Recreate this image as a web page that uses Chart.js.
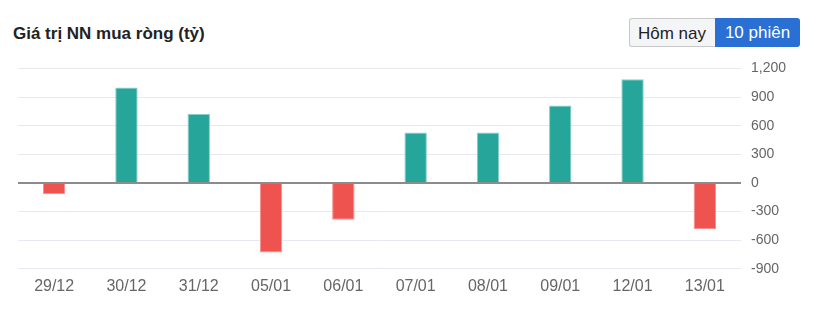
<!DOCTYPE html>
<html>
<head>
<meta charset="utf-8">
<script src="https://cdn.jsdelivr.net/npm/chart.js@4"></script>
<style>
    body { margin: 0; background: #fff; font-family: "Liberation Sans", Arial, sans-serif; }
    #title { position: absolute; left: 13px; top: 24px; font-size: 17px; font-weight: bold; color: #222; }
    .btns { position: absolute; left: 629px; top: 18px; display: flex; }
    .btn { height: 29px; line-height: 29px; font-size: 17px; box-sizing: border-box; padding: 0 8px; }
    .btn.off { background: #f4f5f7; color: #222; border: 1px solid #c8c8c8; border-right: none; border-radius: 3px 0 0 3px; width: 86px; }
    .btn.on { background: #2a6fd3; color: #fff; border-radius: 0 3px 3px 0; width: 85px; text-align: center; }
    #wrap { position: absolute; left: 0; top: 50px; width: 819px; height: 261px; }
</style>
</head>
<body>
<div id="title">Giá trị NN mua ròng (tỷ)</div>
<div class="btns"><div class="btn off">Hôm nay</div><div class="btn on">10 phiên</div></div>
<div id="wrap"><canvas id="chart"></canvas></div>
<script>
const days = ["29/12", "30/12", "31/12", "05/01", "06/01", "07/01", "08/01", "09/01", "12/01", "13/01"];
const netBuy = [-120, 1000, 721, -728, -385, 527, 527, 810, 1087, -484];
const yTicks = [-900, -600, -300, 0, 300, 600, 900, 1200];

const upColor = '#26a69a';
const downColor = '#ef5350';

const ctx = document.getElementById('chart').getContext('2d');
new Chart(ctx, {
    type: 'bar',
    data: {
        labels: days,
        datasets: [{
            data: netBuy,
            backgroundColor: netBuy.map(v => v >= 0 ? upColor : downColor),
            borderColor: netBuy.map(v => v >= 0 ? '#86d0c9' : '#f58e8c'),
            borderWidth: 1,
            barPercentage: 0.31,
            categoryPercentage: 1
        }]
    },
    options: {
        responsive: true,
        maintainAspectRatio: false,
        animation: false,
        layout: { padding: { left: 18, right: 30, top: 17, bottom: 7 } },
        plugins: { legend: { display: false }, tooltip: { enabled: false } },
        scales: {
            x: {
                grid: { display: false, drawTicks: false },
                border: { display: false },
                ticks: { color: '#666', font: { size: 16, family: '"Liberation Sans", Arial' }, padding: 8 }
            },
            y: {
                position: 'right',
                min: -900,
                max: 1200,
                afterBuildTicks: scale => { scale.ticks = yTicks.map(v => ({ value: v })); },
                afterFit: scale => { scale.width = 48; },
                grid: {
                    drawTicks: false,
                    color: c => c.tick && c.tick.value === 0 ? '#8c8c8c' : '#e6e9f4',
                    lineWidth: c => c.tick && c.tick.value === 0 ? 2 : 1
                },
                border: { display: false },
                ticks: {
                    color: '#666',
                    padding: 10,
                    font: { size: 14, family: '"Liberation Sans", Arial' },
                    callback: v => v.toLocaleString('en-US')
                }
            }
        }
    }
});
</script>
</body>
</html>
